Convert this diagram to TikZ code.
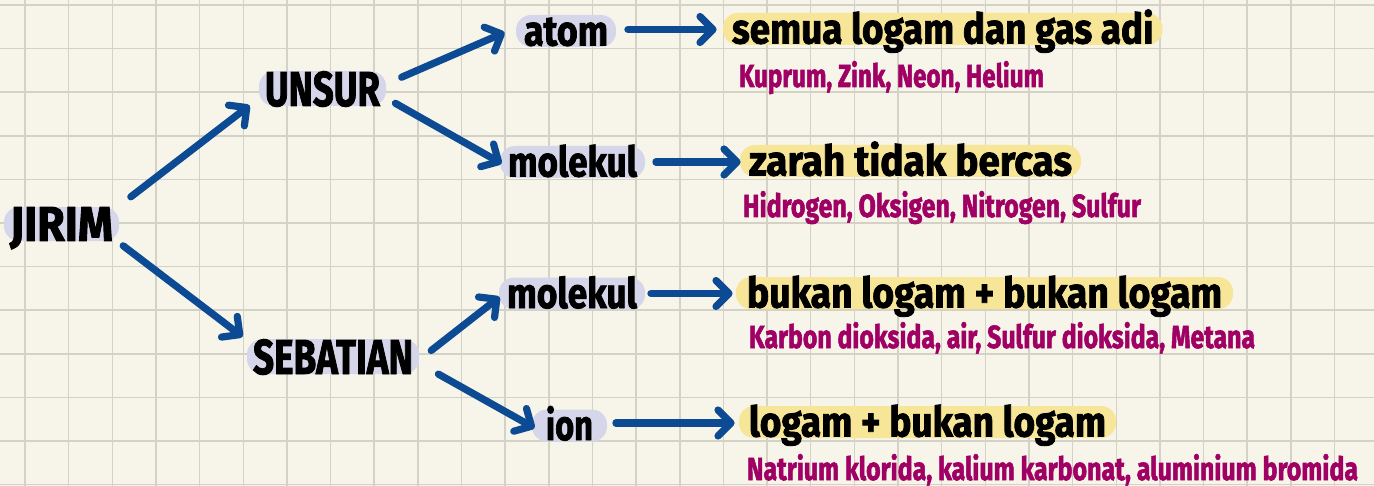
\documentclass[tikz,border=0pt]{standalone}
\usepackage{fontspec}
\setmainfont{Fira Sans}[BoldFeatures={FakeBold=2}]
\usetikzlibrary{arrows.meta,calc}
\definecolor{bgcream}{RGB}{247,245,233}
\definecolor{gridc}{RGB}{212,210,198}
\definecolor{arrowblue}{RGB}{12,74,148}
\definecolor{lav}{RGB}{214,214,234}
\definecolor{hlyellow}{RGB}{247,229,152}
\definecolor{exmag}{RGB}{160,0,100}
% caps label: scale to width, no depth
\newcommand\cw[2]{\raisebox{0pt}[\height][0pt]{\resizebox{#1}{\height}{#2}}}
% lowercase label: fixed pill height, no depth
\newcommand\lw[2]{\raisebox{0pt}[14.5pt][0pt]{\resizebox{#1}{\height}{#2}}}
% example text: scale to width
\newcommand\ew[2]{\resizebox{#1}{\height}{#2}}
\tikzset{
  capl/.style={anchor=base, inner xsep=3pt, inner ysep=0pt,
    font=\fontsize{24.5}{28}\selectfont\bfseries},
  lowl/.style={anchor=base, inner xsep=4pt, inner ysep=0.75pt,
    font=\fontsize{21}{24}\selectfont\bfseries},
  exl/.style={anchor=base, inner sep=0pt, text=exmag,
    font=\fontsize{16}{19}\selectfont\bfseries},
  lavpill/.style={fill=lav, rounded corners=7.5pt},
  ylwpill/.style={fill=hlyellow, rounded corners=7.5pt, inner xsep=4.5pt},
  arr/.style={draw=arrowblue, line width=3.6pt, line cap=round,
    -{Straight Barb[length=6.5pt,width=13pt,round]}},
  gridline/.style={draw=gridc, line width=0.75pt}
}
\begin{document}
\begin{tikzpicture}[x=0.5pt,y=-0.5pt]
\useasboundingbox (0,0) rectangle (1374,486);
\fill[bgcream] (0,0) rectangle (1374,486);
\foreach \i in {0,...,30} \draw[gridline] ({25+43.65*\i},0) -- ({25+43.65*\i},486);
\foreach \j in {0,...,11} \draw[gridline] (0,{5+43.6*\j}) -- (1374,{5+43.6*\j});

\node[capl, lavpill] (jirim) at (61.5,241) {\cw{51.5pt}{JIRIM}};
\node[capl, lavpill] (unsur) at (322.5,106) {\cw{57.5pt}{UNSUR}};
\node[capl, lavpill] (sebatian) at (333,374) {\cw{80pt}{SEBATIAN}};
\node[lowl, lavpill] (atom) at (566,45.5) {\lw{42pt}{atom}};
\node[lowl, lavpill] (molA) at (572.5,176.5) {\lw{64.5pt}{molekul}};
\node[lowl, lavpill] (molB) at (572,308) {\lw{65pt}{molekul}};
\node[lowl, lavpill, inner xsep=7pt] (ion) at (569.5,440) {\lw{23.5pt}{ion}};
\node[lowl, ylwpill] (semua) at (942.75,43.5) {\lw{210.75pt}{semua logam dan gas adi}};
\node[lowl, ylwpill] (zarah) at (910.5,175.5) {\lw{161.5pt}{zarah tidak bercas}};
\node[lowl, ylwpill, inner xsep=5.5pt] (bukan) at (984.5,307.5) {\lw{237.5pt}{bukan logam + bukan logam}};
\node[lowl, ylwpill, inner xsep=5pt] (logam) at (927.5,436.5) {\lw{178.5pt}{logam + bukan logam}};
\node[exl] (kuprum) at (891.5,87) {\ew{152.5pt}{Kuprum, Zink, Neon, Helium}};
\node[exl] (hidrogen) at (942,217) {\ew{199pt}{Hidrogen, Oksigen, Nitrogen, Sulfur}};
\node[exl] (karbon) at (1002,348) {\ew{253pt}{Karbon dioksida, air, Sulfur dioksida, Metana}};
\node[exl] (natrium) at (1052.5,480) {\ew{305.5pt}{Natrium klorida, kalium karbonat, aluminium bromida}};

\draw[arr] ($(jirim.north east)+(11.4,-9.8)$) -- ($(unsur.south west)+(-9,-1)$);
\draw[arr] ($(jirim.south east)+(3.8,4.4)$) -- ($(sebatian.north west)+(-4,-2)$);
\draw[arr] ($(unsur.east)+(15.2,-11.4)$) -- ($(atom.west)+(-11,1.5)$);
\draw[arr] ($(unsur.east)+(9,14.7)$) -- ($(molA.west)+(2,1.5)$);
\draw[arr] ($(sebatian.east)+(11.8,-6.1)$) -- ($(molB.west)+(1,3.5)$);
\draw[arr] ($(sebatian.south east)+(19,-0.3)$) -- ($(ion.west)+(3,2.5)$);
\draw[arr] ($(atom.east)+(11.5,-1.5)$) -- ($(atom.east -| semua.west)+(-6,-1.5)$);
\draw[arr] ($(molA.east)+(10.5,0)$) -- ($(molA.east -| zarah.west)+(1,0)$);
\draw[arr] ($(molB.east)+(5.5,0)$) -- ($(molB.east -| bukan.west)+(-3,0)$);
\draw[arr] ($(ion.east)+(8.5,-2.5)$) -- ($(ion.east -| logam.west)+(-4,-2.5)$);
\end{tikzpicture}
\end{document}
